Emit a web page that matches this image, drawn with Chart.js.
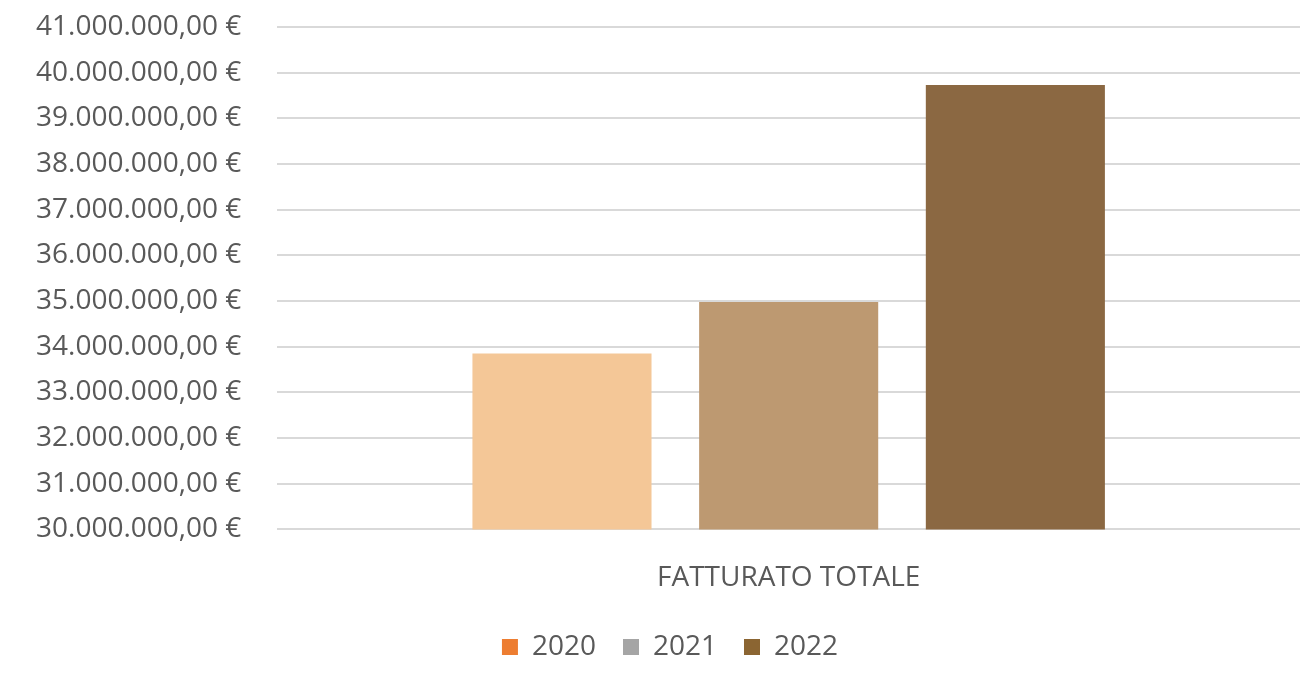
<!DOCTYPE html>
<html>
<head>
<meta charset="utf-8">
<script src="https://cdn.jsdelivr.net/npm/chart.js@4/dist/chart.umd.min.js"></script>
<style>
  html, body { margin: 0; padding: 0; background: #fff; }
  #wrap { width: 1303px; height: 674px; }
</style>
</head>
<body>
<div id="wrap"><canvas id="fatturato-chart"></canvas></div>
<script>
const categories = ['FATTURATO TOTALE']
const years = ['2020', '2021', '2022']
const values = [33850000, 34980000, 39730000]
const barColors = ['#F4C797', '#BD9971', '#8B6842']
const legendColors = ['#ED7D31', '#A5A5A5', '#8B6532']

function euro(n) {
  const parts = n.toFixed(2).split('.')
  const int = parts[0].replace(/\B(?=(\d{3})+(?!\d))/g, '.')
  return int + ',' + parts[1] + ' €'
}

const datasets = years.map((y, i) => ({
  label: y,
  data: [values[i]],
  backgroundColor: barColors[i],
  categoryPercentage: 0.665,
  barPercentage: 0.79
}))

const font = { family: 'Open Sans', size: 28 }

// legend padding is wide sideways, so take some of it back vertically
// and nudge the legend a bit right like in the original
const SHRINK = 13
const SHIFT_X = 20
const legendSqueeze = {
  id: 'legendSqueeze',
  beforeLayout(chart) {
    const lg = chart.legend
    if (!lg || lg._squeezed) return
    const fit = lg.fit
    lg.fit = function () { fit.call(this); this.height -= SHRINK }
    lg._squeezed = true
  },
  afterLayout(chart) {
    const lg = chart.legend
    lg.top -= SHRINK
    lg.bottom -= SHRINK
    lg.left += SHIFT_X
    lg.right += SHIFT_X
  }
}

const ctx = document.getElementById('fatturato-chart').getContext('2d')
new Chart(ctx, {
  type: 'bar',
  data: { labels: categories, datasets },
  plugins: [legendSqueeze],
  options: {
    responsive: true,
    maintainAspectRatio: false,
    animation: false,
    layout: { padding: { top: 27, right: 3, left: 0, bottom: 3 } },
    plugins: {
      tooltip: { enabled: false },
      legend: {
        position: 'bottom',
        labels: {
          font,
          color: '#595959',
          boxWidth: 16,
          boxHeight: 16,
          padding: 27,
          generateLabels: chart => chart.data.datasets.map((ds, i) => ({
            text: ds.label,
            fillStyle: legendColors[i],
            strokeStyle: legendColors[i],
            fontColor: '#595959',
            lineWidth: 0,
            datasetIndex: i
          }))
        }
      }
    },
    scales: {
      x: {
        grid: { display: false },
        border: { display: false },
        ticks: { font, color: '#595959', padding: 24 }
      },
      y: {
        min: 30000000,
        max: 41000000,
        afterFit: scale => { scale.paddingTop = 0 },
        ticks: {
          stepSize: 1000000,
          font,
          color: '#595959',
          padding: 36,
          callback: v => euro(v)
        },
        grid: { color: '#D9D9D9', lineWidth: 2, drawTicks: false },
        border: { display: false }
      }
    }
  }
})
</script>
</body>
</html>
